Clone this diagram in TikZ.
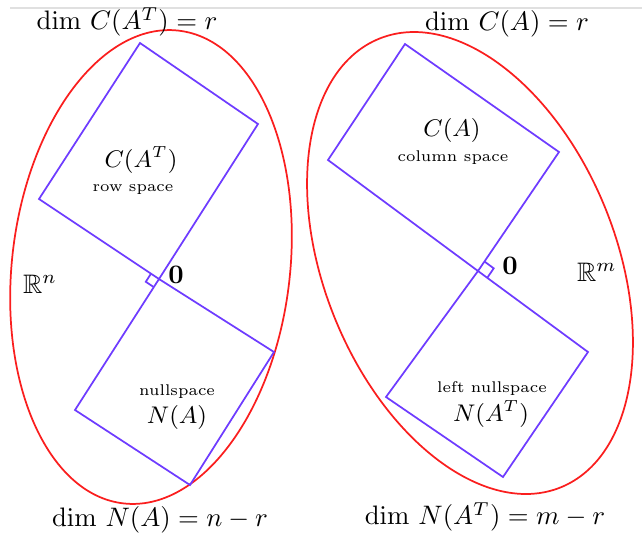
\documentclass[tikz,border=0pt]{standalone}
\usepackage{amssymb}
\usetikzlibrary{calc}
\definecolor{vblue}{RGB}{110,60,255}
\definecolor{ered}{RGB}{250,30,30}
\begin{document}
\begin{tikzpicture}[x=0.374pt,y=-0.374pt,
  sp/.style={draw=vblue,line width=0.65pt,line join=miter},
  ell/.style={draw=ered,line width=0.65pt},
  big/.style={inner sep=0pt},
  lab/.style={inner sep=0pt,font=\fontsize{5.8}{7}\selectfont},
  mid/.style={inner sep=0pt,font=\small}]
\useasboundingbox (0,0) rectangle (642,534);
\draw[black!12,line width=0.4pt] (10,8) -- (642,8);
% left figure
\coordinate (O1) at (159,279);
\coordinate (A1) at (258,124);
\coordinate (T1) at (140,43);
\coordinate (L1) at (39,199);
\coordinate (R1) at (274,352);
\coordinate (B1) at (190,485);
\coordinate (N1) at (75,410);
\draw[ell,rotate around={-6.7:(151,267)}] (151,267) ellipse [x radius=139,y radius=238];
\draw[sp] (O1) -- (A1) -- (T1) -- (L1) -- cycle;
\draw[sp] (O1) -- (R1) -- (B1) -- (N1) -- cycle;
\draw[sp] ($(O1)!3.6pt!(N1)$) coordinate (p1) -- ($(p1)+($(O1)!3.6pt!(L1)$)-(O1)$) -- ($(O1)!3.6pt!(L1)$);
% right figure
\coordinate (O2) at (478,271);
\coordinate (A2) at (559,152);
\coordinate (T2) at (405,44);
\coordinate (L2) at (328,160);
\coordinate (R2) at (588,352);
\coordinate (B2) at (503,477);
\coordinate (N2) at (386,397);
\draw[ell,rotate around={22:(470,263)}] (470,263) ellipse [x radius=146,y radius=242];
\draw[sp] (O2) -- (A2) -- (T2) -- (L2) -- cycle;
\draw[sp] (O2) -- (R2) -- (B2) -- (N2) -- cycle;
\draw[sp] ($(O2)!4.3pt!(A2)$) coordinate (q1) -- ($(q1)+($(O2)!4.3pt!(R2)$)-(O2)$) -- ($(O2)!4.3pt!(R2)$);
% labels
\node[big] (t1) at (127,22) {$\dim\, C(A^T)=r$};
\node[big] (t2) at (507,24) {$\dim\, C(A)=r$};
\node[big] (b1) at (160,520) {$\dim\, N(A)=n-r$};
\node[big] (b2) at (485,517) {$\dim\, N(A^T)=m-r$};
\node[mid] (c1) at (141,160) {$C(A^T)$};
\node[lab] (rs) at (133,190) {row space};
\node[mid] (c2) at (452,130) {$C(A)$};
\node[lab] (cs) at (453,158) {column space};
\node[lab] (ns) at (177,392) {nullspace};
\node[mid] (n1) at (177,417) {$N(A)$};
\node[lab] (ln) at (492,389) {left nullspace};
\node[mid] (n2) at (491,414) {$N(A^T)$};
\node[big] (rn) at (40,284) {$\mathbb{R}^n$};
\node[big] (rm) at (597,272) {$\mathbb{R}^m$};
\node[big] (z1) at (176,275) {$\mathbf{0}$};
\node[big] (z2) at (510,266) {$\mathbf{0}$};
\end{tikzpicture}
\end{document}
